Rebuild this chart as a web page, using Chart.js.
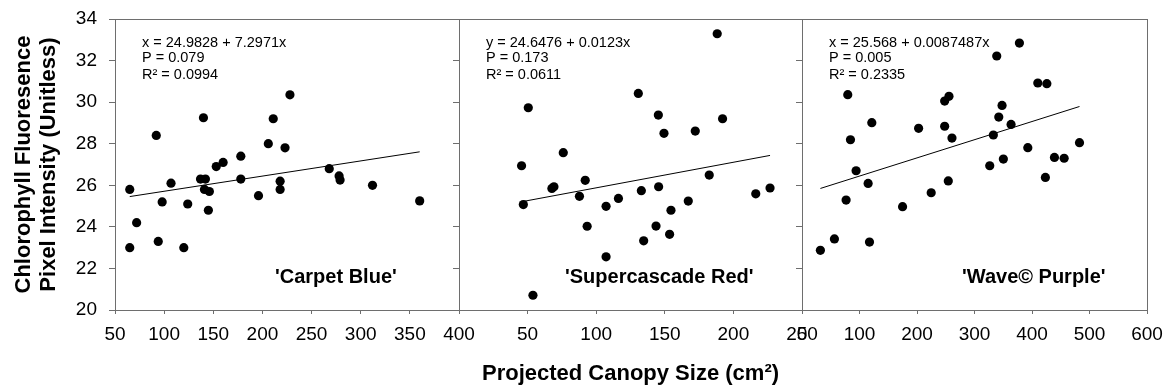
<!DOCTYPE html>
<html>
<head>
<meta charset="utf-8">
<script src="https://cdn.jsdelivr.net/npm/chart.js@4.4.1/dist/chart.umd.min.js"></script>
<style>
  body { margin: 0; background: #fff; }
  #wrap { position: relative; width: 1169px; height: 392px; }
  #wrap canvas { position: absolute; top: 0; }
</style>
</head>
<body>
<div id="wrap">
  <canvas id="carpet" width="482" height="392" style="left:0px"></canvas>
  <canvas id="super" width="378" height="392" style="left:449px"></canvas>
  <canvas id="wave" width="377" height="392" style="left:792px"></canvas>
</div>
<script>
// 'Carpet Blue'
const carpetX = [65, 72, 65, 92, 94, 98, 107, 124, 120, 140, 137, 142, 141, 146, 145, 153,
  160, 178, 178, 196, 206, 211, 223, 218, 218, 228, 268, 278, 279, 312, 360];
const carpetY = [25.8, 24.2, 23.0, 28.4, 23.3, 25.2, 26.1, 25.1, 23.0, 29.25, 26.3, 26.3, 25.8, 25.7, 24.8, 26.9,
  27.1, 27.4, 26.3, 25.5, 28.0, 29.2, 27.8, 26.2, 25.8, 30.35, 26.8, 26.45, 26.25, 26.0, 25.25];

// 'Supercascade Red'
const superX = [50.5, 45.6, 46.9, 76, 67.7, 69.2, 92, 87.8, 93.4, 107.2, 116.2, 107.2, 53.9, 188.2, 130.7,
  145.3, 149.4, 172.2, 192.1, 182.4, 132.9, 145.5, 167.1, 154.5, 143.6, 153.5, 134.6, 216.3, 226.7];
const superY = [29.73, 26.94, 25.07, 27.57, 25.85, 25.93, 26.24, 25.47, 24.03, 24.99, 25.37, 22.56, 20.71, 33.29, 30.42,
  29.38, 28.5, 28.61, 29.2, 26.49, 25.74, 25.93, 25.24, 24.8, 24.04, 23.64, 23.33, 25.59, 25.87];

// 'Wave© Purple'
const waveX = [32, 56.4, 79.6, 76.7, 84.3, 94.1, 121.4, 115, 117.4, 174.9, 202.8, 224.7, 248.1, 255.6, 248.1, 260.8,
  254.4, 378.1, 338.7, 410.1, 425.8, 347.9, 342.2, 363.6, 332.8, 392.7, 350.2, 326.5, 439, 455.9, 482.6, 423.3];
const waveY = [22.87, 23.42, 30.36, 25.29, 28.19, 26.7, 29.01, 26.09, 23.27, 24.97, 28.74, 25.64, 30.05, 30.28, 28.84, 28.27,
  26.21, 32.84, 32.22, 30.92, 30.89, 29.84, 29.28, 28.93, 28.42, 27.81, 27.26, 26.94, 27.34, 27.3, 28.05, 26.38];

// regression fits (intercept, slope) and printed stats
const fitIntercept = [24.9828, 24.6476, 25.568];
const fitSlope = [0.0072971, 0.0123, 0.0087487];
const statLines = [
  ["x = 24.9828 + 7.2971x", "P = 0.079", "R\u00B2 = 0.0994"],
  ["y = 24.6476 + 0.0123x", "P = 0.173", "R\u00B2 = 0.0611"],
  ["x = 25.568 + 0.0087487x", "P = 0.005", "R\u00B2 = 0.2335"],
];
const cultivars = ["'Carpet Blue'", "'Supercascade Red'", "'Wave\u00A9 Purple'"];

const xRanges = [[50, 400, 50], [0, 250, 50], [0, 600, 100]];
const yTicks = [20, 34, 2];

const FONT = "'Liberation Sans', Arial, sans-serif";
const FRAME = "#6e6e6e";

const panelText = {
  id: "panelText",
  afterDraw: (chart, args, options) => {
    const { ctx, chartArea: a } = chart;
    ctx.save();
    ctx.strokeStyle = FRAME;
    ctx.lineWidth = 1;
    ctx.strokeRect(Math.round(a.left) + 0.5, Math.round(a.top) + 0.5,
      Math.round(a.right - a.left), Math.round(a.bottom - a.top));
    ctx.fillStyle = "#000";
    ctx.textBaseline = "alphabetic";
    ctx.font = "14.5px " + FONT;
    const base = [28, 43, 60];
    options.lines.forEach((t, i) => ctx.fillText(t, a.left + 27, a.top + base[i]));
    ctx.font = "bold 20px " + FONT;
    ctx.fillText(options.name, a.left + options.nameX, a.top + 264);
    ctx.restore();
  },
};

function makePanel(id, idx, xs, ys, opts) {
  const pts = xs.map((x, i) => ({ x: x, y: ys[i] }));
  const lo = Math.min(...xs);
  const hi = Math.max(...xs);
  const fit = [lo, hi].map((x) => ({ x: x, y: fitIntercept[idx] + fitSlope[idx] * x }));
  const [xmin, xmax, xstep] = xRanges[idx];

  return new Chart(document.getElementById(id).getContext("2d"), {
    type: "scatter",
    data: {
      datasets: [
        {
          data: pts,
          pointRadius: 4.6,
          pointBackgroundColor: "#000",
          pointBorderWidth: 0,
        },
        {
          type: "line",
          data: fit,
          borderColor: "#000",
          borderWidth: 1,
          pointRadius: 0,
          fill: false,
        },
      ],
    },
    options: {
      responsive: false,
      animation: false,
      layout: { autoPadding: false, padding: { left: 0, top: 19, right: opts.padRight, bottom: 0 } },
      plugins: {
        legend: { display: false },
        tooltip: { enabled: false },
        panelText: { lines: statLines[idx], name: cultivars[idx], nameX: opts.nameX },
      },
      scales: {
        x: {
          type: "linear",
          min: xmin,
          max: xmax,
          border: { display: false },
          grid: { drawOnChartArea: false, drawTicks: true, tickLength: 4, color: FRAME },
          ticks: {
            stepSize: xstep,
            autoSkip: false,
            maxRotation: 0,
            padding: 9,
            color: "#000",
            font: { family: FONT, size: 19 },
            callback: (v) => (opts.hideFirstX && v === xmin ? "" : v),
          },
          title: {
            display: !!opts.xTitle,
            text: opts.xTitle || "",
            color: "#000",
            font: { family: FONT, size: 22, weight: "bold" },
            padding: { top: 0, bottom: 5 },
          },
          afterFit: (s) => {
            s.height = 82;
            s.paddingLeft = 0;
            s.paddingRight = 0;
          },
        },
        y: {
          min: yTicks[0],
          max: yTicks[1],
          border: { display: false },
          grid: { drawOnChartArea: false, drawTicks: true, tickLength: 6, color: FRAME },
          ticks: {
            stepSize: yTicks[2],
            padding: 12,
            color: "#000",
            font: { family: FONT, size: 19 },
            callback: (v) => (opts.yLabels ? v : ""),
          },
          title: {
            display: !!opts.yTitle,
            text: opts.yTitle || "",
            color: "#000",
            font: { family: FONT, size: 22, weight: "bold", lineHeight: 1.14 },
            padding: { top: 11, bottom: 0 },
          },
          afterFit: (s) => {
            s.width = opts.yWidth;
            s.paddingTop = 0;
            s.paddingBottom = 0;
          },
        },
      },
    },
    plugins: [panelText],
  });
}

makePanel("carpet", 0, carpetX, carpetY, {
  yWidth: 115, padRight: 23, yLabels: true, nameX: 160,
  yTitle: ["Chlorophyll Fluoresence", "Pixel Intensity (Unitless)"],
});
makePanel("super", 1, superX, superY, {
  yWidth: 10, padRight: 25, yLabels: false, nameX: 106, hideFirstX: true,
  xTitle: "Projected Canopy Size (cm\u00B2)",
});
makePanel("wave", 2, waveX, waveY, {
  yWidth: 10, padRight: 22, yLabels: false, nameX: 160,
});
</script>
</body>
</html>
